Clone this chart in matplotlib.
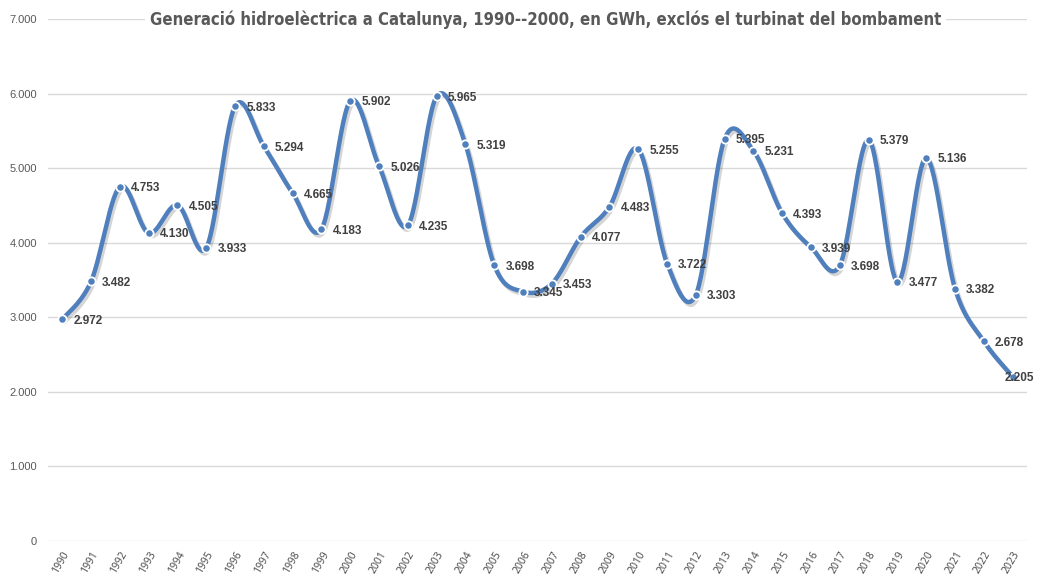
import numpy as np
import matplotlib
matplotlib.use("Agg")
import matplotlib.pyplot as plt
import matplotlib.patheffects as pe
from matplotlib import font_manager

years = [str(y) for y in range(1990, 2024)]
values = [2972, 3482, 4753, 4130, 4505, 3933, 5833, 5294, 4665, 4183,
          5902, 5026, 4235, 5965, 5319, 3698, 3345, 3453, 4077, 4483,
          5255, 3722, 3303, 5395, 5231, 4393, 3939, 3698, 5379, 3477,
          5136, 3382, 2678, 2205]
yticks = [0, 1000, 2000, 3000, 4000, 5000, 6000, 7000]
title = "Generació hidroelèctrica a Catalunya, 1990--2000, en GWh, exclós el turbinat del bombament"

def fmt(v):
    return f"{v:,}".replace(",", ".")

fl = font_manager.fontManager.ttflist
names = {f.name for f in fl}
title_kw = dict(family="Roboto")
if "Liberation Sans Narrow" in names:
    title_kw = dict(family="Liberation Sans Narrow")
elif any(f.name == "DejaVu Sans" and "ondensed" in f.fname for f in fl):
    title_kw = dict(family="DejaVu Sans", stretch="condensed")

fig = plt.figure(figsize=(10.41, 5.79), dpi=100)
ax = fig.add_axes([0.046, 0.0656, 0.9406, 0.9014])

x = np.arange(len(values))
y = np.array(values, dtype=float)

# Catmull-Rom style smoothing (Excel-like)
xs, ys = [], []
n = len(x)
for i in range(n - 1):
    p0 = np.array([x[max(i - 1, 0)], y[max(i - 1, 0)]])
    p1 = np.array([x[i], y[i]])
    p2 = np.array([x[i + 1], y[i + 1]])
    p3 = np.array([x[min(i + 2, n - 1)], y[min(i + 2, n - 1)]])
    c1 = p1 + (p2 - p0) / 6.0
    c2 = p2 - (p3 - p1) / 6.0
    t = np.linspace(0, 1, 30)[:, None]
    pts = ((1 - t) ** 3) * p1 + 3 * ((1 - t) ** 2) * t * c1 + 3 * (1 - t) * t ** 2 * c2 + t ** 3 * p2
    xs.extend(pts[:, 0])
    ys.extend(pts[:, 1])

blue = "#4f7fbd"
ax.plot(xs, ys, color=blue, lw=3.2, solid_capstyle="round", zorder=3,
        path_effects=[pe.SimpleLineShadow(offset=(1.5, -2), alpha=0.22, shadow_color="#404040"), pe.Normal()])
ax.plot(x, y, linestyle="none", marker="o", ms=6, mfc=blue, mec="white", mew=1.3, zorder=4)

for i, (xi, yi) in enumerate(zip(x, y)):
    dx = 8 if i < n - 1 else -6
    ax.annotate(fmt(int(yi)), (xi, yi), xytext=(dx, -1), textcoords="offset points",
                ha="left", va="center", fontsize=8.5, fontweight="bold", color="#404040",
                family="Liberation Sans", zorder=5)

ax.set_xlim(-0.5, n - 0.5)
ax.set_ylim(0, 7000)
ax.set_yticks(yticks)
ax.set_yticklabels([fmt(v) for v in yticks], family="Liberation Sans")
ax.set_xticks(x)
ax.set_xticklabels(years, rotation=60, ha="right", rotation_mode="anchor", family="Open Sans")
ax.tick_params(axis="both", length=0)
ax.tick_params(axis="y", labelsize=8, pad=8, labelcolor="#595959")
ax.tick_params(axis="x", labelsize=7.5, pad=6, labelcolor="#454545")
ax.grid(axis="y", color="#d9d9d9", lw=1)
ax.set_axisbelow(True)
for s in ax.spines.values():
    s.set_visible(False)

tt = fig.text(0.524, 0.966, title, ha="center", va="center", fontsize=14, fontweight="bold",
              color="#595959", bbox=dict(facecolor="white", edgecolor="none", pad=4), **title_kw)
fig.canvas.draw()
w = tt.get_window_extent().width
tt.set_fontsize(14 * 796.0 / w)

fig.savefig("out.png", dpi=100, facecolor="white")
